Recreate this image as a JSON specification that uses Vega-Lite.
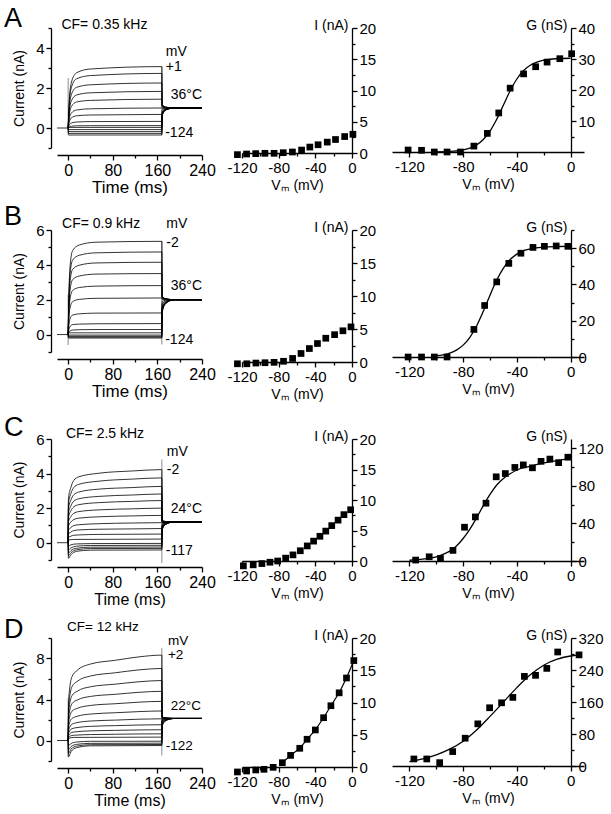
{
"$schema":"https://vega.github.io/schema/vega-lite/v6.json",
"background":"white",
"padding":{"left":4,"top":5,"right":2,"bottom":2},
"config":{"font":"Liberation Sans","view":{"stroke":null},
"axis":{"grid":false,"domainColor":"#000","tickColor":"#000","labelColor":"#000","titleColor":"#000","labelFontSize":15,"titleFontSize":14,"titleFontWeight":"normal","domainWidth":1.3,"tickWidth":1.3,"labelPadding":2,"labelFlush":false,"labelOverlap":false,"titlePadding":3},
"text":{"font":"Liberation Sans","fontSize":14,"color":"#000"}},
"columns":3,
"spacing":{"row":77,"column":40},
"bounds":"flush",
"align":"each",
"datasets":{
"trA":[
{"k":0,"t":-20,"i":0},{"k":0,"t":0,"i":0},
{"k":1,"t":0,"i":0},{"k":1,"t":2,"i":1.38},{"k":1,"t":6,"i":2.3},{"k":1,"t":15,"i":2.76},{"k":1,"t":40,"i":2.95},{"k":1,"t":168,"i":3.07},{"k":1,"t":168.5,"i":1.18},{"k":1,"t":175,"i":1.05},{"k":1,"t":190,"i":1},{"k":1,"t":240,"i":1},
{"k":2,"t":0,"i":0},{"k":2,"t":2,"i":1.23},{"k":2,"t":6,"i":2.05},{"k":2,"t":15,"i":2.46},{"k":2,"t":40,"i":2.62},{"k":2,"t":168,"i":2.73},{"k":2,"t":168.5,"i":1.15},{"k":2,"t":175,"i":1.04},{"k":2,"t":190,"i":1},{"k":2,"t":240,"i":1},
{"k":3,"t":0,"i":0},{"k":3,"t":2,"i":1.01},{"k":3,"t":6,"i":1.69},{"k":3,"t":15,"i":2.03},{"k":3,"t":40,"i":2.16},{"k":3,"t":168,"i":2.25},{"k":3,"t":168.5,"i":1.12},{"k":3,"t":175,"i":1.03},{"k":3,"t":190,"i":1},{"k":3,"t":240,"i":1},
{"k":4,"t":0,"i":0},{"k":4,"t":2,"i":0.82},{"k":4,"t":6,"i":1.37},{"k":4,"t":15,"i":1.65},{"k":4,"t":40,"i":1.76},{"k":4,"t":168,"i":1.83},{"k":4,"t":168.5,"i":1.08},{"k":4,"t":175,"i":1.02},{"k":4,"t":190,"i":1},{"k":4,"t":240,"i":1},
{"k":5,"t":0,"i":0},{"k":5,"t":2,"i":0.65},{"k":5,"t":6,"i":1.08},{"k":5,"t":15,"i":1.3},{"k":5,"t":40,"i":1.38},{"k":5,"t":168,"i":1.44},{"k":5,"t":168.5,"i":1.04},{"k":5,"t":175,"i":1.01},{"k":5,"t":190,"i":1},{"k":5,"t":240,"i":1},
{"k":6,"t":0,"i":0},{"k":6,"t":2,"i":0.45},{"k":6,"t":6,"i":0.75},{"k":6,"t":15,"i":0.9},{"k":6,"t":40,"i":0.96},{"k":6,"t":168,"i":1.0},{"k":6,"t":168.5,"i":0.98},{"k":6,"t":175,"i":0.995},{"k":6,"t":190,"i":1},{"k":6,"t":240,"i":1},
{"k":7,"t":0,"i":0},{"k":7,"t":2,"i":0.31},{"k":7,"t":6,"i":0.51},{"k":7,"t":15,"i":0.61},{"k":7,"t":40,"i":0.65},{"k":7,"t":168,"i":0.68},{"k":7,"t":168.5,"i":0.9},{"k":7,"t":175,"i":0.975},{"k":7,"t":190,"i":1},{"k":7,"t":240,"i":1},
{"k":8,"t":0,"i":0},{"k":8,"t":2,"i":0.15},{"k":8,"t":6,"i":0.25},{"k":8,"t":15,"i":0.3},{"k":8,"t":40,"i":0.32},{"k":8,"t":168,"i":0.33},{"k":8,"t":168.5,"i":0.8},{"k":8,"t":175,"i":0.95},{"k":8,"t":190,"i":1},{"k":8,"t":240,"i":1},
{"k":9,"t":0,"i":0},{"k":9,"t":2,"i":0.05},{"k":9,"t":6,"i":0.09},{"k":9,"t":15,"i":0.11},{"k":9,"t":40,"i":0.115},{"k":9,"t":168,"i":0.12},{"k":9,"t":168.5,"i":0.72},{"k":9,"t":175,"i":0.93},{"k":9,"t":190,"i":1},{"k":9,"t":240,"i":1},
{"k":10,"t":0,"i":0},{"k":10,"t":0.5,"i":0.03},{"k":10,"t":168,"i":0.03},{"k":10,"t":168.5,"i":0.68},{"k":10,"t":175,"i":0.92},{"k":10,"t":190,"i":1},{"k":10,"t":240,"i":1},
{"k":11,"t":0,"i":0},{"k":11,"t":0.5,"i":-0.08},{"k":11,"t":168,"i":-0.08},{"k":11,"t":168.5,"i":0.66},{"k":11,"t":175,"i":0.915},{"k":11,"t":190,"i":1},{"k":11,"t":240,"i":1},
{"k":12,"t":0,"i":0},{"k":12,"t":0.5,"i":-0.18},{"k":12,"t":168,"i":-0.18},{"k":12,"t":168.5,"i":0.64},{"k":12,"t":175,"i":0.91},{"k":12,"t":190,"i":1},{"k":12,"t":240,"i":1},
{"k":13,"t":0,"i":0},{"k":13,"t":0.5,"i":-0.27},{"k":13,"t":168,"i":-0.27},{"k":13,"t":168.5,"i":0.62},{"k":13,"t":175,"i":0.905},{"k":13,"t":190,"i":1},{"k":13,"t":240,"i":1},
{"k":14,"t":0,"i":0},{"k":14,"t":0.5,"i":-0.35},{"k":14,"t":168,"i":-0.35},{"k":14,"t":168.5,"i":0.6},{"k":14,"t":175,"i":0.9},{"k":14,"t":190,"i":1},{"k":14,"t":240,"i":1}
],
"trB":[
{"k":0,"t":-20,"i":0},{"k":0,"t":0,"i":0},
{"k":1,"t":0,"i":0},{"k":1,"t":1,"i":1.87},{"k":1,"t":3,"i":3.75},{"k":1,"t":8,"i":4.82},{"k":1,"t":20,"i":5.14},{"k":1,"t":50,"i":5.3},{"k":1,"t":168,"i":5.35},{"k":1,"t":168.5,"i":2.2},{"k":1,"t":175,"i":2.06},{"k":1,"t":190,"i":2},{"k":1,"t":240,"i":2},
{"k":2,"t":0,"i":0},{"k":2,"t":1,"i":1.66},{"k":2,"t":3,"i":3.32},{"k":2,"t":8,"i":4.27},{"k":2,"t":20,"i":4.55},{"k":2,"t":50,"i":4.69},{"k":2,"t":168,"i":4.74},{"k":2,"t":168.5,"i":2.18},{"k":2,"t":175,"i":2.05},{"k":2,"t":190,"i":2},{"k":2,"t":240,"i":2},
{"k":3,"t":0,"i":0},{"k":3,"t":1,"i":1.45},{"k":3,"t":3,"i":2.91},{"k":3,"t":8,"i":3.74},{"k":3,"t":20,"i":3.98},{"k":3,"t":50,"i":4.11},{"k":3,"t":168,"i":4.15},{"k":3,"t":168.5,"i":2.15},{"k":3,"t":175,"i":2.05},{"k":3,"t":190,"i":2},{"k":3,"t":240,"i":2},
{"k":4,"t":0,"i":0},{"k":4,"t":1,"i":1.23},{"k":4,"t":3,"i":2.45},{"k":4,"t":8,"i":3.15},{"k":4,"t":20,"i":3.36},{"k":4,"t":50,"i":3.47},{"k":4,"t":168,"i":3.5},{"k":4,"t":168.5,"i":2.12},{"k":4,"t":175,"i":2.04},{"k":4,"t":190,"i":2},{"k":4,"t":240,"i":2},
{"k":5,"t":0,"i":0},{"k":5,"t":1,"i":0.98},{"k":5,"t":3,"i":1.97},{"k":5,"t":8,"i":2.53},{"k":5,"t":20,"i":2.7},{"k":5,"t":50,"i":2.78},{"k":5,"t":168,"i":2.81},{"k":5,"t":168.5,"i":2.08},{"k":5,"t":175,"i":2.02},{"k":5,"t":190,"i":2},{"k":5,"t":240,"i":2},
{"k":6,"t":0,"i":0},{"k":6,"t":1,"i":0.74},{"k":6,"t":3,"i":1.47},{"k":6,"t":8,"i":1.89},{"k":6,"t":20,"i":2.02},{"k":6,"t":50,"i":2.08},{"k":6,"t":168,"i":2.1},{"k":6,"t":168.5,"i":2.02},{"k":6,"t":175,"i":2.01},{"k":6,"t":190,"i":2},{"k":6,"t":240,"i":2},
{"k":7,"t":0,"i":0},{"k":7,"t":1,"i":0.43},{"k":7,"t":3,"i":0.87},{"k":7,"t":8,"i":1.12},{"k":7,"t":20,"i":1.19},{"k":7,"t":50,"i":1.23},{"k":7,"t":168,"i":1.24},{"k":7,"t":168.5,"i":1.9},{"k":7,"t":175,"i":1.97},{"k":7,"t":190,"i":2},{"k":7,"t":240,"i":2},
{"k":8,"t":0,"i":0},{"k":8,"t":1,"i":0.22},{"k":8,"t":3,"i":0.44},{"k":8,"t":8,"i":0.57},{"k":8,"t":20,"i":0.6},{"k":8,"t":50,"i":0.62},{"k":8,"t":168,"i":0.63},{"k":8,"t":168.5,"i":1.75},{"k":8,"t":175,"i":1.92},{"k":8,"t":190,"i":2},{"k":8,"t":240,"i":2},
{"k":9,"t":0,"i":0},{"k":9,"t":1,"i":0.1},{"k":9,"t":3,"i":0.2},{"k":9,"t":8,"i":0.26},{"k":9,"t":20,"i":0.28},{"k":9,"t":50,"i":0.29},{"k":9,"t":168,"i":0.29},{"k":9,"t":168.5,"i":1.6},{"k":9,"t":175,"i":1.88},{"k":9,"t":190,"i":2},{"k":9,"t":240,"i":2},
{"k":10,"t":0,"i":0},{"k":10,"t":0.5,"i":0.1},{"k":10,"t":168,"i":0.1},{"k":10,"t":168.5,"i":1.5},{"k":10,"t":175,"i":1.85},{"k":10,"t":190,"i":2},{"k":10,"t":240,"i":2},
{"k":11,"t":0,"i":0},{"k":11,"t":0.5,"i":-0.03},{"k":11,"t":168,"i":-0.03},{"k":11,"t":168.5,"i":1.42},{"k":11,"t":175,"i":1.83},{"k":11,"t":190,"i":2},{"k":11,"t":240,"i":2},
{"k":12,"t":0,"i":0},{"k":12,"t":0.5,"i":-0.1},{"k":12,"t":168,"i":-0.1},{"k":12,"t":168.5,"i":1.36},{"k":12,"t":175,"i":1.81},{"k":12,"t":190,"i":2},{"k":12,"t":240,"i":2},
{"k":13,"t":0,"i":0},{"k":13,"t":0.5,"i":-0.15},{"k":13,"t":168,"i":-0.15},{"k":13,"t":168.5,"i":1.3},{"k":13,"t":175,"i":1.79},{"k":13,"t":190,"i":2},{"k":13,"t":240,"i":2},
{"k":14,"t":0,"i":0},{"k":14,"t":0.5,"i":-0.2},{"k":14,"t":168,"i":-0.2},{"k":14,"t":168.5,"i":1.25},{"k":14,"t":175,"i":1.78},{"k":14,"t":190,"i":2},{"k":14,"t":240,"i":2}
],
"trC":[
{"k":0,"t":-20,"i":0},{"k":0,"t":0,"i":0},
{"k":1,"t":0,"i":0},{"k":1,"t":0.5,"i":2.54},{"k":1,"t":5,"i":3.21},{"k":1,"t":10,"i":3.6},{"k":1,"t":19,"i":3.81},{"k":1,"t":55,"i":4.02},{"k":1,"t":115,"i":4.15},{"k":1,"t":168,"i":4.23},{"k":1,"t":168.5,"i":1.3},{"k":1,"t":175,"i":1.23},{"k":1,"t":190,"i":1.2},{"k":1,"t":240,"i":1.2},
{"k":2,"t":0,"i":0},{"k":2,"t":0.5,"i":2.25},{"k":2,"t":5,"i":2.85},{"k":2,"t":10,"i":3.19},{"k":2,"t":19,"i":3.38},{"k":2,"t":55,"i":3.56},{"k":2,"t":115,"i":3.68},{"k":2,"t":168,"i":3.75},{"k":2,"t":168.5,"i":1.28},{"k":2,"t":175,"i":1.22},{"k":2,"t":190,"i":1.2},{"k":2,"t":240,"i":1.2},
{"k":3,"t":0,"i":0},{"k":3,"t":0.5,"i":1.96},{"k":3,"t":5,"i":2.48},{"k":3,"t":10,"i":2.77},{"k":3,"t":19,"i":2.93},{"k":3,"t":55,"i":3.1},{"k":3,"t":115,"i":3.19},{"k":3,"t":168,"i":3.26},{"k":3,"t":168.5,"i":1.26},{"k":3,"t":175,"i":1.22},{"k":3,"t":190,"i":1.2},{"k":3,"t":240,"i":1.2},
{"k":4,"t":0,"i":0},{"k":4,"t":0.5,"i":1.69},{"k":4,"t":5,"i":2.14},{"k":4,"t":10,"i":2.4},{"k":4,"t":19,"i":2.54},{"k":4,"t":55,"i":2.68},{"k":4,"t":115,"i":2.76},{"k":4,"t":168,"i":2.82},{"k":4,"t":168.5,"i":1.24},{"k":4,"t":175,"i":1.21},{"k":4,"t":190,"i":1.2},{"k":4,"t":240,"i":1.2},
{"k":5,"t":0,"i":0},{"k":5,"t":0.5,"i":1.46},{"k":5,"t":5,"i":1.85},{"k":5,"t":10,"i":2.07},{"k":5,"t":19,"i":2.2},{"k":5,"t":55,"i":2.32},{"k":5,"t":115,"i":2.39},{"k":5,"t":168,"i":2.44},{"k":5,"t":168.5,"i":1.22},{"k":5,"t":175,"i":1.21},{"k":5,"t":190,"i":1.2},{"k":5,"t":240,"i":1.2},
{"k":6,"t":0,"i":0},{"k":6,"t":0.5,"i":1.2},{"k":6,"t":5,"i":1.52},{"k":6,"t":10,"i":1.7},{"k":6,"t":19,"i":1.8},{"k":6,"t":55,"i":1.9},{"k":6,"t":115,"i":1.96},{"k":6,"t":168,"i":2.0},{"k":6,"t":168.5,"i":1.2},{"k":6,"t":175,"i":1.2},{"k":6,"t":190,"i":1.2},{"k":6,"t":240,"i":1.2},
{"k":7,"t":0,"i":0},{"k":7,"t":0.5,"i":0.95},{"k":7,"t":5,"i":1.2},{"k":7,"t":10,"i":1.34},{"k":7,"t":19,"i":1.42},{"k":7,"t":55,"i":1.5},{"k":7,"t":115,"i":1.55},{"k":7,"t":168,"i":1.58},{"k":7,"t":168.5,"i":1.17},{"k":7,"t":175,"i":1.19},{"k":7,"t":190,"i":1.2},{"k":7,"t":240,"i":1.2},
{"k":8,"t":0,"i":0},{"k":8,"t":0.5,"i":0.7},{"k":8,"t":5,"i":0.88},{"k":8,"t":10,"i":0.99},{"k":8,"t":19,"i":1.04},{"k":8,"t":55,"i":1.1},{"k":8,"t":115,"i":1.14},{"k":8,"t":168,"i":1.16},{"k":8,"t":168.5,"i":1.13},{"k":8,"t":175,"i":1.18},{"k":8,"t":190,"i":1.2},{"k":8,"t":240,"i":1.2},
{"k":9,"t":0,"i":0},{"k":9,"t":0.5,"i":0.49},{"k":9,"t":5,"i":0.62},{"k":9,"t":10,"i":0.7},{"k":9,"t":19,"i":0.74},{"k":9,"t":55,"i":0.78},{"k":9,"t":115,"i":0.8},{"k":9,"t":168,"i":0.82},{"k":9,"t":168.5,"i":1.08},{"k":9,"t":175,"i":1.16},{"k":9,"t":190,"i":1.2},{"k":9,"t":240,"i":1.2},
{"k":10,"t":0,"i":0},{"k":10,"t":0.5,"i":0.3},{"k":10,"t":5,"i":0.38},{"k":10,"t":10,"i":0.43},{"k":10,"t":19,"i":0.45},{"k":10,"t":55,"i":0.48},{"k":10,"t":115,"i":0.49},{"k":10,"t":168,"i":0.5},{"k":10,"t":168.5,"i":1.02},{"k":10,"t":175,"i":1.15},{"k":10,"t":190,"i":1.2},{"k":10,"t":240,"i":1.2},
{"k":11,"t":0,"i":0},{"k":11,"t":0.5,"i":0.15},{"k":11,"t":10,"i":0.19},{"k":11,"t":168,"i":0.21},{"k":11,"t":168.5,"i":0.96},{"k":11,"t":175,"i":1.13},{"k":11,"t":190,"i":1.2},{"k":11,"t":240,"i":1.2},
{"k":12,"t":0,"i":0},{"k":12,"t":0.5,"i":-0.2},{"k":12,"t":5,"i":-0.12},{"k":12,"t":15,"i":-0.07},{"k":12,"t":40,"i":-0.05},{"k":12,"t":168,"i":-0.04},{"k":12,"t":168.5,"i":0.9},{"k":12,"t":175,"i":1.11},{"k":12,"t":190,"i":1.2},{"k":12,"t":240,"i":1.2},
{"k":13,"t":0,"i":0},{"k":13,"t":0.5,"i":-0.4},{"k":13,"t":5,"i":-0.3},{"k":13,"t":15,"i":-0.2},{"k":13,"t":40,"i":-0.16},{"k":13,"t":168,"i":-0.15},{"k":13,"t":168.5,"i":0.85},{"k":13,"t":175,"i":1.1},{"k":13,"t":190,"i":1.2},{"k":13,"t":240,"i":1.2},
{"k":14,"t":0,"i":0},{"k":14,"t":0.5,"i":-0.6},{"k":14,"t":5,"i":-0.45},{"k":14,"t":15,"i":-0.32},{"k":14,"t":40,"i":-0.26},{"k":14,"t":168,"i":-0.25},{"k":14,"t":168.5,"i":0.8},{"k":14,"t":175,"i":1.08},{"k":14,"t":190,"i":1.2},{"k":14,"t":240,"i":1.2},
{"k":15,"t":0,"i":0},{"k":15,"t":0.5,"i":-0.75},{"k":15,"t":5,"i":-0.58},{"k":15,"t":15,"i":-0.41},{"k":15,"t":40,"i":-0.34},{"k":15,"t":168,"i":-0.33},{"k":15,"t":168.5,"i":0.77},{"k":15,"t":175,"i":1.07},{"k":15,"t":190,"i":1.2},{"k":15,"t":240,"i":1.2},
{"k":16,"t":0,"i":0},{"k":16,"t":0.5,"i":-0.9},{"k":16,"t":5,"i":-0.7},{"k":16,"t":15,"i":-0.5},{"k":16,"t":40,"i":-0.43},{"k":16,"t":168,"i":-0.42},{"k":16,"t":168.5,"i":0.74},{"k":16,"t":175,"i":1.06},{"k":16,"t":190,"i":1.2},{"k":16,"t":240,"i":1.2}
],
"trD":[
{"k":0,"t":-20,"i":0},{"k":0,"t":0,"i":0},
{"k":1,"t":0,"i":0},{"k":1,"t":1,"i":4.08},{"k":1,"t":7,"i":6.25},{"k":1,"t":16,"i":6.83},{"k":1,"t":40,"i":7.46},{"k":1,"t":85,"i":7.83},{"k":1,"t":127,"i":8.16},{"k":1,"t":168,"i":8.33},{"k":1,"t":168.5,"i":2.3},{"k":1,"t":175,"i":2.2},{"k":1,"t":190,"i":2.15},{"k":1,"t":240,"i":2.15},
{"k":2,"t":0,"i":0},{"k":2,"t":1,"i":3.44},{"k":2,"t":7,"i":5.27},{"k":2,"t":16,"i":5.76},{"k":2,"t":40,"i":6.29},{"k":2,"t":85,"i":6.61},{"k":2,"t":127,"i":6.89},{"k":2,"t":168,"i":7.03},{"k":2,"t":168.5,"i":2.28},{"k":2,"t":175,"i":2.19},{"k":2,"t":190,"i":2.15},{"k":2,"t":240,"i":2.15},
{"k":3,"t":0,"i":0},{"k":3,"t":1,"i":2.87},{"k":3,"t":7,"i":4.39},{"k":3,"t":16,"i":4.8},{"k":3,"t":40,"i":5.24},{"k":3,"t":85,"i":5.5},{"k":3,"t":127,"i":5.73},{"k":3,"t":168,"i":5.85},{"k":3,"t":168.5,"i":2.26},{"k":3,"t":175,"i":2.18},{"k":3,"t":190,"i":2.15},{"k":3,"t":240,"i":2.15},
{"k":4,"t":0,"i":0},{"k":4,"t":1,"i":2.35},{"k":4,"t":7,"i":3.6},{"k":4,"t":16,"i":3.94},{"k":4,"t":40,"i":4.3},{"k":4,"t":85,"i":4.51},{"k":4,"t":127,"i":4.7},{"k":4,"t":168,"i":4.8},{"k":4,"t":168.5,"i":2.24},{"k":4,"t":175,"i":2.18},{"k":4,"t":190,"i":2.15},{"k":4,"t":240,"i":2.15},
{"k":5,"t":0,"i":0},{"k":5,"t":1,"i":1.87},{"k":5,"t":7,"i":2.87},{"k":5,"t":16,"i":3.13},{"k":5,"t":40,"i":3.42},{"k":5,"t":85,"i":3.59},{"k":5,"t":127,"i":3.74},{"k":5,"t":168,"i":3.82},{"k":5,"t":168.5,"i":2.22},{"k":5,"t":175,"i":2.17},{"k":5,"t":190,"i":2.15},{"k":5,"t":240,"i":2.15},
{"k":6,"t":0,"i":0},{"k":6,"t":1,"i":1.41},{"k":6,"t":7,"i":2.16},{"k":6,"t":16,"i":2.36},{"k":6,"t":40,"i":2.58},{"k":6,"t":85,"i":2.71},{"k":6,"t":127,"i":2.82},{"k":6,"t":168,"i":2.88},{"k":6,"t":168.5,"i":2.2},{"k":6,"t":175,"i":2.17},{"k":6,"t":190,"i":2.15},{"k":6,"t":240,"i":2.15},
{"k":7,"t":0,"i":0},{"k":7,"t":1,"i":1.04},{"k":7,"t":7,"i":1.59},{"k":7,"t":16,"i":1.74},{"k":7,"t":40,"i":1.9},{"k":7,"t":85,"i":1.99},{"k":7,"t":127,"i":2.08},{"k":7,"t":168,"i":2.12},{"k":7,"t":168.5,"i":2.17},{"k":7,"t":175,"i":2.16},{"k":7,"t":190,"i":2.15},{"k":7,"t":240,"i":2.15},
{"k":8,"t":0,"i":0},{"k":8,"t":1,"i":0.75},{"k":8,"t":7,"i":1.16},{"k":8,"t":16,"i":1.26},{"k":8,"t":40,"i":1.38},{"k":8,"t":85,"i":1.45},{"k":8,"t":127,"i":1.51},{"k":8,"t":168,"i":1.54},{"k":8,"t":168.5,"i":2.12},{"k":8,"t":175,"i":2.14},{"k":8,"t":190,"i":2.15},{"k":8,"t":240,"i":2.15},
{"k":9,"t":0,"i":0},{"k":9,"t":1,"i":0.51},{"k":9,"t":7,"i":0.79},{"k":9,"t":16,"i":0.86},{"k":9,"t":40,"i":0.94},{"k":9,"t":85,"i":0.99},{"k":9,"t":127,"i":1.03},{"k":9,"t":168,"i":1.05},{"k":9,"t":168.5,"i":2.05},{"k":9,"t":175,"i":2.12},{"k":9,"t":190,"i":2.15},{"k":9,"t":240,"i":2.15},
{"k":10,"t":0,"i":0},{"k":10,"t":1,"i":0.32},{"k":10,"t":7,"i":0.49},{"k":10,"t":16,"i":0.53},{"k":10,"t":40,"i":0.58},{"k":10,"t":85,"i":0.61},{"k":10,"t":127,"i":0.64},{"k":10,"t":168,"i":0.65},{"k":10,"t":168.5,"i":1.95},{"k":10,"t":175,"i":2.09},{"k":10,"t":190,"i":2.15},{"k":10,"t":240,"i":2.15},
{"k":11,"t":0,"i":0},{"k":11,"t":0.5,"i":0.2},{"k":11,"t":10,"i":0.3},{"k":11,"t":168,"i":0.33},{"k":11,"t":168.5,"i":1.85},{"k":11,"t":175,"i":2.06},{"k":11,"t":190,"i":2.15},{"k":11,"t":240,"i":2.15},
{"k":12,"t":0,"i":0},{"k":12,"t":0.5,"i":-0.5},{"k":12,"t":5,"i":-0.3},{"k":12,"t":15,"i":-0.15},{"k":12,"t":40,"i":-0.08},{"k":12,"t":168,"i":-0.07},{"k":12,"t":168.5,"i":1.72},{"k":12,"t":175,"i":2.02},{"k":12,"t":190,"i":2.15},{"k":12,"t":240,"i":2.15},
{"k":13,"t":0,"i":0},{"k":13,"t":0.5,"i":-0.9},{"k":13,"t":5,"i":-0.6},{"k":13,"t":15,"i":-0.38},{"k":13,"t":40,"i":-0.28},{"k":13,"t":168,"i":-0.26},{"k":13,"t":168.5,"i":1.6},{"k":13,"t":175,"i":1.99},{"k":13,"t":190,"i":2.15},{"k":13,"t":240,"i":2.15},
{"k":14,"t":0,"i":0},{"k":14,"t":0.5,"i":-1.25},{"k":14,"t":5,"i":-0.85},{"k":14,"t":15,"i":-0.55},{"k":14,"t":40,"i":-0.41},{"k":14,"t":168,"i":-0.39},{"k":14,"t":168.5,"i":1.48},{"k":14,"t":175,"i":1.95},{"k":14,"t":190,"i":2.15},{"k":14,"t":240,"i":2.15},
{"k":15,"t":0,"i":0},{"k":15,"t":0.5,"i":-1.6},{"k":15,"t":5,"i":-1.1},{"k":15,"t":15,"i":-0.7},{"k":15,"t":40,"i":-0.52},{"k":15,"t":168,"i":-0.49},{"k":15,"t":168.5,"i":1.38},{"k":15,"t":175,"i":1.92},{"k":15,"t":190,"i":2.15},{"k":15,"t":240,"i":2.15}
]
},
"concat":[
{"width":145,"height":120,
"encoding":{"x":{"field":"t","type":"quantitative","scale":{"domain":[-20,240],"nice":false,"zero":false},"axis":{"title":"Time (ms)","titleFontSize":17,"labelFontSize":16,"values":[0,40,80,120,160,200,240],"labelExpr":"datum.value % 80 === 0 ? '' + datum.value : ''","tickSize":{"condition":{"test":"datum.value % 80 === 0","value":5},"value":3},"offset":7,"titlePadding":1}},
"y":{"field":"i","type":"quantitative","scale":{"domain":[-1,5],"nice":false,"zero":false},"axis":{"title":"Current (nA)","values":[-1,0,1,2,3,4,5],"labelExpr":"datum.value % 2 === 0 ? '' + datum.value : ''","tickSize":{"condition":{"test":"datum.value % 2 === 0","value":5},"value":3},"offset":6,"titlePadding":9}}},
"layer":[
{"data":{"values":[{"t":168,"i":-0.36,"i2":3.07},{"t":0,"i":0,"i2":2.5}]},"mark":{"type":"rule","color":"#8c8c8c","strokeWidth":1},"encoding":{"y2":{"field":"i2"}}},
{"data":{"name":"trA"},"mark":{"type":"line","interpolate":"monotone","color":"black","strokeWidth":0.8},"encoding":{"detail":{"field":"k","type":"nominal"}}},
{"data":{"values":[{"t":-12,"i":5.15,"s":"CF= 0.35 kHz"},{"t":175,"i":3.8,"s":"mV"},{"t":175,"i":3.05,"s":"+1"},{"t":184,"i":1.65,"s":"36°C"},{"t":174,"i":-0.25,"s":"-124"}]},"mark":{"type":"text","align":"left","baseline":"middle","fontSize":14},"encoding":{"text":{"field":"s"}}},
{"data":{"values":[{"t":-115,"i":5.05,"s":"A"}]},"mark":{"type":"text","align":"left","baseline":"alphabetic","fontSize":27},"encoding":{"text":{"field":"s"}}}
]},
{"width":110,"height":125,
"data":{"values":[{"v":-125,"i":-0.26},{"v":-115,"i":-0.16},{"v":-105,"i":-0.1},{"v":-95,"i":-0.05},{"v":-85,"i":-0.05},{"v":-75,"i":0.05},{"v":-65,"i":0.16},{"v":-55,"i":0.47},{"v":-46,"i":0.95},{"v":-37,"i":1.32},{"v":-27,"i":1.74},{"v":-18,"i":2.16},{"v":-8,"i":2.63},{"v":1,"i":3.0}]},
"mark":{"type":"square","size":45,"color":"black","opacity":1},
"encoding":{"x":{"field":"v","type":"quantitative","scale":{"domain":[-120,0],"nice":false,"zero":false},"axis":{"title":"Vₘ (mV)","values":[-120,-100,-80,-60,-40,-20,0],"labelExpr":"datum.value % 40 === 0 ? '' + datum.value : ''","tickSize":{"condition":{"test":"datum.value % 40 === 0","value":5},"value":3}}},
"y":{"field":"i","type":"quantitative","scale":{"domain":[0,20],"nice":false,"zero":false},"axis":{"orient":"right","title":"I (nA)","titleAngle":0,"titleAlign":"right","titleBaseline":"middle","titleX":-4,"titleY":-3,"values":[0,2.5,5,7.5,10,12.5,15,17.5,20],"labelExpr":"datum.value % 5 === 0 ? '' + datum.value : ''","tickSize":{"condition":{"test":"datum.value % 5 === 0","value":5},"value":3}}}}},
{"width":192,"height":124,
"encoding":{"x":{"field":"v","type":"quantitative","scale":{"domain":[-133,10],"nice":false,"zero":false},"axis":{"title":"Vₘ (mV)","values":[-120,-100,-80,-60,-40,-20,0],"labelExpr":"datum.value % 40 === 0 ? '' + datum.value : ''","tickSize":{"condition":{"test":"datum.value % 40 === 0","value":5},"value":3}}},
"y":{"field":"g","type":"quantitative","scale":{"domain":[0,40],"nice":false,"zero":false},"axis":{"orient":"right","offset":-13,"title":"G (nS)","titleAngle":0,"titleAlign":"right","titleBaseline":"middle","titleX":-4,"titleY":-3,"values":[5,10,15,20,25,30,35,40],"labelExpr":"datum.value % 10 === 0 ? '' + datum.value : ''","tickSize":{"condition":{"test":"datum.value % 10 === 0","value":5},"value":3}}}},
"layer":[
{"data":{"values":[{"v":-100,"g":0.06},{"v":-90,"g":0.2},{"v":-80,"g":0.7},{"v":-75,"g":1.27},{"v":-70,"g":2.3},{"v":-65,"g":4.03},{"v":-60,"g":6.75},{"v":-55,"g":10.56},{"v":-50,"g":15.15},{"v":-45,"g":19.74},{"v":-40,"g":23.55},{"v":-35,"g":26.28},{"v":-30,"g":28.0},{"v":-25,"g":29.0},{"v":-20,"g":29.6},{"v":-10,"g":30.1},{"v":0,"g":30.25}]},"mark":{"type":"line","interpolate":"monotone","color":"black","strokeWidth":1.3},"encoding":{}},
{"data":{"values":[{"v":-121,"g":0.65},{"v":-111,"g":0.55},{"v":-101.5,"g":0},{"v":-92,"g":0},{"v":-82,"g":0},{"v":-72,"g":1.9},{"v":-62,"g":6.0},{"v":-53.5,"g":12.6},{"v":-45,"g":20.6},{"v":-35,"g":25.2},{"v":-26,"g":27.5},{"v":-17.5,"g":29},{"v":-8,"g":30.1},{"v":0.8,"g":31.7}]},"mark":{"type":"square","size":45,"color":"black","opacity":1}}
]},
{"width":145,"height":122,
"encoding":{"x":{"field":"t","type":"quantitative","scale":{"domain":[-20,240],"nice":false,"zero":false},"axis":{"title":"Time (ms)","titleFontSize":17,"labelFontSize":16,"values":[0,40,80,120,160,200,240],"labelExpr":"datum.value % 80 === 0 ? '' + datum.value : ''","tickSize":{"condition":{"test":"datum.value % 80 === 0","value":5},"value":3},"offset":7,"titlePadding":1}},
"y":{"field":"i","type":"quantitative","scale":{"domain":[-1,6],"nice":false,"zero":false},"axis":{"title":"Current (nA)","values":[-1,0,1,2,3,4,5,6],"labelExpr":"datum.value % 2 === 0 ? '' + datum.value : ''","tickSize":{"condition":{"test":"datum.value % 2 === 0","value":5},"value":3},"offset":6,"titlePadding":9}}},
"layer":[
{"data":{"values":[{"t":168,"i":-0.57,"i2":5.38},{"t":0,"i":-0.6,"i2":2.3}]},"mark":{"type":"rule","color":"#8c8c8c","strokeWidth":1},"encoding":{"y2":{"field":"i2"}}},
{"data":{"name":"trB"},"mark":{"type":"line","interpolate":"monotone","color":"black","strokeWidth":0.8},"encoding":{"detail":{"field":"k","type":"nominal"}}},
{"data":{"values":[{"t":-11,"i":6.34,"s":"CF= 0.9 kHz"},{"t":176,"i":6.34,"s":"mV"},{"t":176,"i":5.26,"s":"-2"},{"t":184,"i":2.8,"s":"36°C"},{"t":174,"i":-0.29,"s":"-124"}]},"mark":{"type":"text","align":"left","baseline":"middle","fontSize":14},"encoding":{"text":{"field":"s"}}},
{"data":{"values":[{"t":-115,"i":6.29,"s":"B"}]},"mark":{"type":"text","align":"left","baseline":"alphabetic","fontSize":27},"encoding":{"text":{"field":"s"}}}
]},
{"width":110,"height":132,
"data":{"values":[{"v":-125,"i":-0.27},{"v":-114.7,"i":-0.27},{"v":-104.8,"i":-0.16},{"v":-94.9,"i":-0.11},{"v":-85,"i":-0.05},{"v":-74.7,"i":0.11},{"v":-64.8,"i":0.54},{"v":-55.6,"i":1.29},{"v":-46.5,"i":2.04},{"v":-37.7,"i":2.8},{"v":-28.6,"i":3.6},{"v":-19,"i":4.14},{"v":-9.9,"i":4.73},{"v":-1.1,"i":5.32}]},
"mark":{"type":"square","size":45,"color":"black","opacity":1},
"encoding":{"x":{"field":"v","type":"quantitative","scale":{"domain":[-120,0],"nice":false,"zero":false},"axis":{"title":"Vₘ (mV)","values":[-120,-100,-80,-60,-40,-20,0],"labelExpr":"datum.value % 40 === 0 ? '' + datum.value : ''","tickSize":{"condition":{"test":"datum.value % 40 === 0","value":5},"value":3}}},
"y":{"field":"i","type":"quantitative","scale":{"domain":[0,20],"nice":false,"zero":false},"axis":{"orient":"right","title":"I (nA)","titleAngle":0,"titleAlign":"right","titleBaseline":"middle","titleX":-4,"titleY":-3,"values":[0,2.5,5,7.5,10,12.5,15,17.5,20],"labelExpr":"datum.value % 5 === 0 ? '' + datum.value : ''","tickSize":{"condition":{"test":"datum.value % 5 === 0","value":5},"value":3}}}}},
{"width":192,"height":127,
"encoding":{"x":{"field":"v","type":"quantitative","scale":{"domain":[-133,10],"nice":false,"zero":false},"axis":{"title":"Vₘ (mV)","values":[-120,-100,-80,-60,-40,-20,0],"labelExpr":"datum.value % 40 === 0 ? '' + datum.value : ''","tickSize":{"condition":{"test":"datum.value % 40 === 0","value":5},"value":3}}},
"y":{"field":"g","type":"quantitative","scale":{"domain":[0,70],"nice":false,"zero":false},"axis":{"orient":"right","offset":-13,"title":"G (nS)","titleAngle":0,"titleAlign":"right","titleBaseline":"middle","titleX":-4,"titleY":-3,"values":[0,10,20,30,40,50,60,70],"labelExpr":"datum.value % 20 === 0 ? '' + datum.value : ''","tickSize":{"condition":{"test":"datum.value % 20 === 0","value":5},"value":3}}}},
"layer":[
{"data":{"values":[{"v":-100,"g":0.69},{"v":-95,"g":1.23},{"v":-90,"g":2.19},{"v":-85,"g":3.82},{"v":-80,"g":6.55},{"v":-75,"g":10.85},{"v":-70,"g":17.1},{"v":-65,"g":25.2},{"v":-60,"g":34.1},{"v":-55,"g":42.4},{"v":-50,"g":49.0},{"v":-45,"g":53.7},{"v":-40,"g":56.7},{"v":-35,"g":58.6},{"v":-30,"g":59.6},{"v":-20,"g":60.6},{"v":-10,"g":60.9},{"v":0,"g":61.0}]},"mark":{"type":"line","interpolate":"monotone","color":"black","strokeWidth":1.3},"encoding":{}},
{"data":{"values":[{"v":-121,"g":0},{"v":-111,"g":0},{"v":-101.5,"g":0},{"v":-92,"g":0},{"v":-72,"g":15.2},{"v":-64,"g":28.4},{"v":-55,"g":41.4},{"v":-46,"g":51.6},{"v":-37,"g":57.2},{"v":-28,"g":60.4},{"v":-19.5,"g":61.0},{"v":-10.7,"g":61.2},{"v":-2,"g":61.0}]},"mark":{"type":"square","size":45,"color":"black","opacity":1}}
]},
{"width":145,"height":121,
"encoding":{"x":{"field":"t","type":"quantitative","scale":{"domain":[-20,240],"nice":false,"zero":false},"axis":{"title":"Time (ms)","titleFontSize":16,"labelFontSize":16,"values":[0,40,80,120,160,200,240],"labelExpr":"datum.value % 80 === 0 ? '' + datum.value : ''","tickSize":{"condition":{"test":"datum.value % 80 === 0","value":5},"value":3},"offset":7,"titlePadding":1}},
"y":{"field":"i","type":"quantitative","scale":{"domain":[-1,6],"nice":false,"zero":false},"axis":{"title":"Current (nA)","values":[-1,0,1,2,3,4,5,6],"labelExpr":"datum.value % 2 === 0 ? '' + datum.value : ''","tickSize":{"condition":{"test":"datum.value % 2 === 0","value":5},"value":3},"offset":6,"titlePadding":9}}},
"layer":[
{"data":{"values":[{"t":168,"i":-1.18,"i2":4.82}]},"mark":{"type":"rule","color":"#8c8c8c","strokeWidth":1},"encoding":{"y2":{"field":"i2"}}},
{"data":{"name":"trC"},"mark":{"type":"line","interpolate":"monotone","color":"black","strokeWidth":0.8},"encoding":{"detail":{"field":"k","type":"nominal"}}},
{"data":{"values":[{"t":-4,"i":6.3,"s":"CF= 2.5 kHz"},{"t":177,"i":5.26,"s":"mV"},{"t":177,"i":4.22,"s":"-2"},{"t":184,"i":1.97,"s":"24°C"},{"t":175,"i":-0.46,"s":"-117"}]},"mark":{"type":"text","align":"left","baseline":"middle","fontSize":14},"encoding":{"text":{"field":"s"}}},
{"data":{"values":[{"t":-115,"i":6.17,"s":"C"}]},"mark":{"type":"text","align":"left","baseline":"alphabetic","fontSize":27},"encoding":{"text":{"field":"s"}}}
]},
{"width":110,"height":122,
"data":{"values":[{"v":-118.5,"i":-0.8},{"v":-107.8,"i":-0.63},{"v":-98.3,"i":-0.42},{"v":-89.5,"i":-0.2},{"v":-81.1,"i":0},{"v":-72.4,"i":0.47},{"v":-64.4,"i":1.0},{"v":-56.4,"i":1.68},{"v":-48.8,"i":2.47},{"v":-41.9,"i":3.26},{"v":-35,"i":4.05},{"v":-28.6,"i":4.9},{"v":-22.1,"i":5.8},{"v":-15.2,"i":6.7},{"v":-8.8,"i":7.6},{"v":-1.5,"i":8.4}]},
"mark":{"type":"square","size":45,"color":"black","opacity":1},
"encoding":{"x":{"field":"v","type":"quantitative","scale":{"domain":[-120,0],"nice":false,"zero":false},"axis":{"title":"Vₘ (mV)","values":[-120,-100,-80,-60,-40,-20,0],"labelExpr":"datum.value % 40 === 0 ? '' + datum.value : ''","tickSize":{"condition":{"test":"datum.value % 40 === 0","value":5},"value":3}}},
"y":{"field":"i","type":"quantitative","scale":{"domain":[0,20],"nice":false,"zero":false},"axis":{"orient":"right","title":"I (nA)","titleAngle":0,"titleAlign":"right","titleBaseline":"middle","titleX":-4,"titleY":-3,"values":[0,2.5,5,7.5,10,12.5,15,17.5,20],"labelExpr":"datum.value % 5 === 0 ? '' + datum.value : ''","tickSize":{"condition":{"test":"datum.value % 5 === 0","value":5},"value":3}}}}},
{"width":192,"height":122,
"encoding":{"x":{"field":"v","type":"quantitative","scale":{"domain":[-133,10],"nice":false,"zero":false},"axis":{"title":"Vₘ (mV)","values":[-120,-100,-80,-60,-40,-20,0],"labelExpr":"datum.value % 40 === 0 ? '' + datum.value : ''","tickSize":{"condition":{"test":"datum.value % 40 === 0","value":5},"value":3}}},
"y":{"field":"g","type":"quantitative","scale":{"domain":[0,130],"nice":false,"zero":false},"axis":{"orient":"right","offset":-13,"title":"G (nS)","titleAngle":0,"titleAlign":"right","titleBaseline":"middle","titleX":-4,"titleY":-3,"values":[0,20,40,60,80,100,120],"labelExpr":"datum.value % 40 === 0 ? '' + datum.value : ''","tickSize":{"condition":{"test":"datum.value % 40 === 0","value":5},"value":3}}}},
"layer":[
{"data":{"values":[{"v":-120,"g":0.8},{"v":-110,"g":2.0},{"v":-100,"g":4.5},{"v":-95,"g":7},{"v":-90,"g":10.5},{"v":-85,"g":16},{"v":-80,"g":24},{"v":-75,"g":34},{"v":-70,"g":46},{"v":-65,"g":59},{"v":-60,"g":71},{"v":-55,"g":81},{"v":-50,"g":88},{"v":-45,"g":93},{"v":-40,"g":97},{"v":-30,"g":101},{"v":-20,"g":104.5},{"v":-10,"g":107},{"v":0,"g":109.5}]},"mark":{"type":"line","interpolate":"monotone","color":"black","strokeWidth":1.3},"encoding":{}},
{"data":{"values":[{"v":-115.4,"g":1.0},{"v":-105.3,"g":4.5},{"v":-96.9,"g":2.7},{"v":-87.6,"g":11.3},{"v":-79,"g":36.0},{"v":-70.9,"g":47.0},{"v":-63,"g":61.6},{"v":-55.4,"g":89.7},{"v":-48.6,"g":93.2},{"v":-41.5,"g":99.7},{"v":-35.2,"g":102.4},{"v":-28.4,"g":99.3},{"v":-22,"g":106.2},{"v":-15.4,"g":108.6},{"v":-8.9,"g":104.8},{"v":-2,"g":110.6}]},"mark":{"type":"square","size":45,"color":"black","opacity":1}}
]},
{"width":145,"height":123,
"encoding":{"x":{"field":"t","type":"quantitative","scale":{"domain":[-20,240],"nice":false,"zero":false},"axis":{"title":"Time (ms)","titleFontSize":16,"labelFontSize":16,"values":[0,40,80,120,160,200,240],"labelExpr":"datum.value % 80 === 0 ? '' + datum.value : ''","tickSize":{"condition":{"test":"datum.value % 80 === 0","value":5},"value":3},"offset":7,"titlePadding":1}},
"y":{"field":"i","type":"quantitative","scale":{"domain":[-2,10],"nice":false,"zero":false},"axis":{"title":"Current (nA)","values":[-2,0,2,4,6,8,10],"labelExpr":"datum.value % 4 === 0 ? '' + datum.value : ''","tickSize":{"condition":{"test":"datum.value % 4 === 0","value":5},"value":3},"offset":6,"titlePadding":9}}},
"layer":[
{"data":{"values":[{"t":168,"i":-1.47,"i2":9.0},{"t":0,"i":-1.6,"i2":4.1}]},"mark":{"type":"rule","color":"#8c8c8c","strokeWidth":1},"encoding":{"y2":{"field":"i2"}}},
{"data":{"name":"trD"},"mark":{"type":"line","interpolate":"monotone","color":"black","strokeWidth":0.8},"encoding":{"detail":{"field":"k","type":"nominal"}}},
{"data":{"values":[{"t":-2,"i":11.1,"s":"CF= 12 kHz"},{"t":179,"i":9.7,"s":"mV"},{"t":179,"i":8.3,"s":"+2"},{"t":184,"i":3.4,"s":"22°C"},{"t":175,"i":-0.5,"s":"-122"}]},"mark":{"type":"text","align":"left","baseline":"middle","fontSize":13.5},"encoding":{"text":{"field":"s"}}},
{"data":{"values":[{"t":-115,"i":10.0,"s":"D"}]},"mark":{"type":"text","align":"left","baseline":"alphabetic","fontSize":27},"encoding":{"text":{"field":"s"}}}
]},
{"width":110,"height":129,
"data":{"values":[{"v":-125,"i":-0.77},{"v":-115,"i":-0.62},{"v":-105,"i":-0.46},{"v":-96,"i":-0.36},{"v":-86,"i":-0.05},{"v":-76,"i":0.67},{"v":-67,"i":1.8},{"v":-57,"i":2.9},{"v":-49,"i":4.3},{"v":-40,"i":5.74},{"v":-31,"i":7.64},{"v":-23,"i":9.5},{"v":-14,"i":11.5},{"v":-6,"i":13.8},{"v":2,"i":16.5}]},
"encoding":{"x":{"field":"v","type":"quantitative","scale":{"domain":[-120,0],"nice":false,"zero":false},"axis":{"title":"Vₘ (mV)","values":[-120,-100,-80,-60,-40,-20,0],"labelExpr":"datum.value % 40 === 0 ? '' + datum.value : ''","tickSize":{"condition":{"test":"datum.value % 40 === 0","value":5},"value":3}}},
"y":{"field":"i","type":"quantitative","scale":{"domain":[0,20],"nice":false,"zero":false},"axis":{"orient":"right","title":"I (nA)","titleAngle":0,"titleAlign":"right","titleBaseline":"middle","titleX":-4,"titleY":-3,"values":[0,2.5,5,7.5,10,12.5,15,17.5,20],"labelExpr":"datum.value % 5 === 0 ? '' + datum.value : ''","tickSize":{"condition":{"test":"datum.value % 5 === 0","value":5},"value":3}}}},
"layer":[
{"transform":[{"filter":"datum.v >= -80"}],"mark":{"type":"line","color":"black","strokeWidth":1.2},"encoding":{}},
{"mark":{"type":"square","size":45,"color":"black","opacity":1}}
]},
{"width":192,"height":128,
"encoding":{"x":{"field":"v","type":"quantitative","scale":{"domain":[-133,10],"nice":false,"zero":false},"axis":{"title":"Vₘ (mV)","values":[-120,-100,-80,-60,-40,-20,0],"labelExpr":"datum.value % 40 === 0 ? '' + datum.value : ''","tickSize":{"condition":{"test":"datum.value % 40 === 0","value":5},"value":3}}},
"y":{"field":"g","type":"quantitative","scale":{"domain":[0,320],"nice":false,"zero":false},"axis":{"orient":"right","offset":-13,"title":"G (nS)","titleAngle":0,"titleAlign":"right","titleBaseline":"middle","titleX":-4,"titleY":-3,"values":[0,40,80,120,160,200,240,280,320],"labelExpr":"datum.value % 80 === 0 ? '' + datum.value : ''","tickSize":{"condition":{"test":"datum.value % 80 === 0","value":5},"value":3}}}},
"layer":[
{"data":{"values":[{"v":-120,"g":11},{"v":-110,"g":18},{"v":-100,"g":28},{"v":-90,"g":42},{"v":-80,"g":62},{"v":-70,"g":90},{"v":-60,"g":124},{"v":-50,"g":160},{"v":-40,"g":196},{"v":-30,"g":228},{"v":-20,"g":252},{"v":-10,"g":267},{"v":0,"g":275},{"v":6,"g":278}]},"mark":{"type":"line","interpolate":"monotone","color":"black","strokeWidth":1.3},"encoding":{}},
{"data":{"values":[{"v":-116.7,"g":17.6},{"v":-107.1,"g":17.6},{"v":-97.5,"g":8.4},{"v":-87.8,"g":36},{"v":-78.5,"g":69.5},{"v":-69.1,"g":105.4},{"v":-60.3,"g":145.6},{"v":-51.4,"g":158},{"v":-43,"g":171.5},{"v":-34.4,"g":224},{"v":-26.1,"g":226.6},{"v":-17.7,"g":244},{"v":-9.6,"g":285},{"v":6.3,"g":277.8}]},"mark":{"type":"square","size":45,"color":"black","opacity":1}}
]}
]
}
